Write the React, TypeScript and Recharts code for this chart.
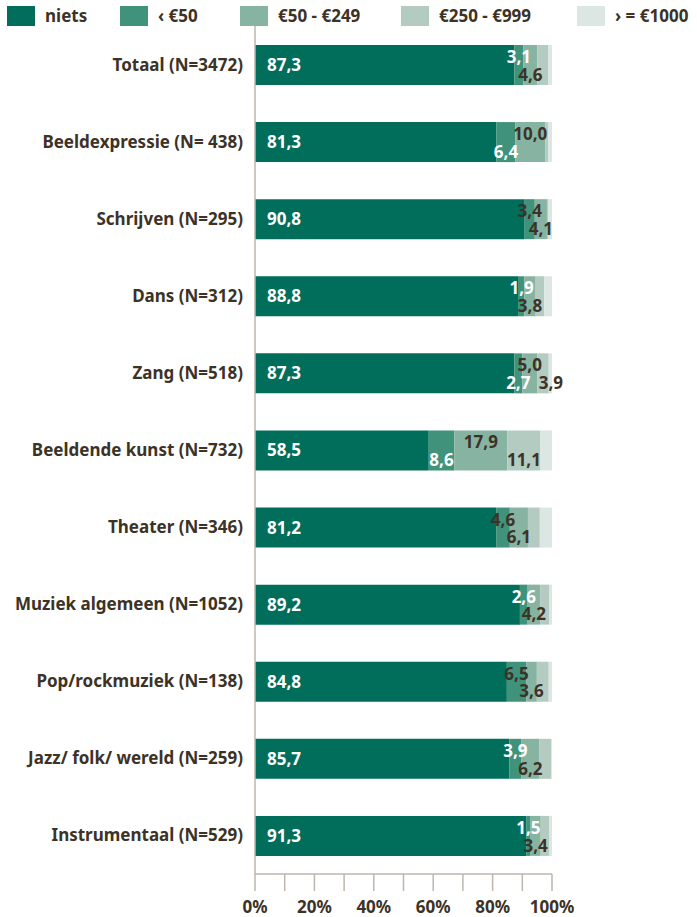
import { BarChart, Bar, XAxis, YAxis, LabelList } from "recharts";

const categories = [
  "Totaal (N=3472)",
  "Beeldexpressie (N= 438)",
  "Schrijven (N=295)",
  "Dans (N=312)",
  "Zang (N=518)",
  "Beeldende kunst (N=732)",
  "Theater (N=346)",
  "Muziek algemeen (N=1052)",
  "Pop/rockmuziek (N=138)",
  "Jazz/ folk/ wereld (N=259)",
  "Instrumentaal (N=529)",
];

const niets = [87.3, 81.3, 90.8, 88.8, 87.3, 58.5, 81.2, 89.2, 84.8, 85.7, 91.3];
const onder50 = [3.1, 6.4, 3.4, 1.9, 2.7, 8.6, 4.6, 2.6, 6.5, 3.9, 1.5];
const van50tot249 = [4.6, 10.0, 4.1, 3.8, 5.0, 17.9, 6.1, 4.2, 3.6, 6.2, 3.4];
const van250tot999 = [3.7, 1.0, 0.5, 2.9, 3.9, 11.1, 4.0, 3.0, 4.0, 4.0, 2.8];
const vanaf1000 = [1.3, 1.3, 1.2, 2.6, 1.1, 3.9, 4.1, 1.0, 1.1, 0.2, 1.0];

const xTicks = [0, 10, 20, 30, 40, 50, 60, 70, 80, 90, 100];

const SERIES = [
  { key: "niets", name: "niets", color: "#006e5a" },
  { key: "onder50", name: "‹ €50", color: "#40927a" },
  { key: "van50tot249", name: "€50 - €249", color: "#87b4a2" },
  { key: "van250tot999", name: "€250 - €999", color: "#b4cbc1" },
  { key: "vanaf1000", name: "› = €1000", color: "#dce6e2" },
];

const rows = categories.map((name, i) => ({
  name,
  niets: niets[i],
  onder50: onder50[i],
  van50tot249: van50tot249[i],
  van250tot999: van250tot999[i],
  vanaf1000: vanaf1000[i],
}));

const FONT = "'Noto Sans', sans-serif";
const DARK = "#3c3226";
const AXIS = "#bdb6ae";
const LEGEND_X = [7, 120, 240, 401, 577];

// label placement quirks of the original
const LOW_BELOW = new Set([1, 4, 5]);
const LOW_DARK = new Set([2, 6, 8]);
const SHOW_HIGH = new Set([4, 5]);
const HIGH_DX: Record<number, number> = { 4: 8 };

const fmt = (v: number) => v.toFixed(1).replace(".", ",");

function txt(x: number, y: number, value: number, fill: string, anchor: "start" | "middle") {
  return (
    <text x={x} y={y} fill={fill} textAnchor={anchor} fontFamily={FONT} fontWeight={700} fontSize={17}>
      {fmt(value)}
    </text>
  );
}

function makeLabel(series: string) {
  return (props: any) => {
    const { x, y, width, height, value, index } = props;
    const cy = Number(y) + Number(height) / 2;
    const cx = Number(x) + Number(width) / 2;
    const top = cy - 2;
    const bottom = cy + 15.7;
    if (series === "niets") return txt(Number(x) + 12, cy + 6, value, "#fff", "start");
    if (series === "onder50") {
      const below = LOW_BELOW.has(index);
      return txt(cx, below ? bottom : top, value, LOW_DARK.has(index) ? DARK : "#fff", "middle");
    }
    if (series === "van50tot249") {
      const below = !LOW_BELOW.has(index);
      return txt(cx, below ? bottom : top, value, DARK, "middle");
    }
    if (series === "van250tot999" && SHOW_HIGH.has(index)) {
      return txt(cx + (HIGH_DX[index] || 0), bottom, value, DARK, "middle");
    }
    return null;
  };
}

function LegendRow() {
  return (
    <>
      {SERIES.map((s, i) => (
        <div
          key={s.key}
          style={{
            position: "absolute",
            left: LEGEND_X[i],
            top: 6,
            display: "flex",
            alignItems: "center",
            fontFamily: FONT,
            fontWeight: 700,
            fontSize: 17,
            color: DARK,
            whiteSpace: "nowrap",
          }}
        >
          <span style={{ width: 28, height: 20, background: s.color, marginRight: 10, display: "inline-block" }} />
          <span style={{ lineHeight: "20px" }}>{s.name}</span>
        </div>
      ))}
    </>
  );
}

export default function App() {
  return (
    <div style={{ position: "absolute", left: 0, top: 0, width: 697, height: 917, background: "#fff" }}>
      <BarChart
        width={697}
        height={917}
        data={rows}
        layout="vertical"
        barSize={40}
        margin={{ top: 26, right: 145, left: 0, bottom: 0 }}
      >
        <XAxis
          type="number"
          domain={[0, 100]}
          ticks={xTicks}
          interval={0}
          height={43}
          tickSize={17}
          tickMargin={10}
          stroke={AXIS}
          axisLine={{ stroke: AXIS, strokeWidth: 1.5 }}
          tickLine={{ stroke: AXIS, strokeWidth: 1.5 }}
          tickFormatter={(v: number) => (v % 20 === 0 ? `${v}%` : "")}
          tick={{ fill: DARK, fontFamily: FONT, fontWeight: 700, fontSize: 17 }}
        />
        <YAxis
          type="category"
          dataKey="name"
          width={255}
          interval={0}
          tickLine={false}
          tickSize={0}
          tickMargin={12}
          axisLine={{ stroke: AXIS, strokeWidth: 1.5 }}
          tick={{ fill: DARK, fontFamily: FONT, fontWeight: 700, fontSize: 17 }}
        />
        {SERIES.map((s) => (
          <Bar key={s.key} dataKey={s.key} name={s.name} stackId="a" fill={s.color} isAnimationActive={false}>
            <LabelList dataKey={s.key} content={makeLabel(s.key)} />
          </Bar>
        ))}
      </BarChart>
      <LegendRow />
    </div>
  );
}
